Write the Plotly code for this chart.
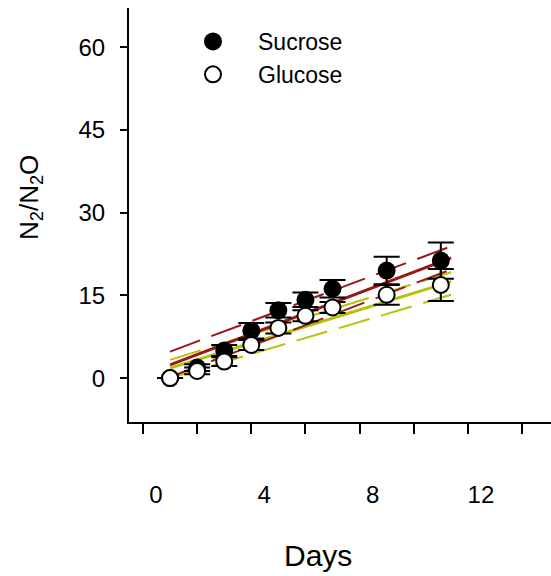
import plotly.graph_objects as go

# Data
days = [1, 2, 3, 4, 5, 6, 7, 9, 11]
sucrose = [0.0, 1.9, 5.0, 8.6, 12.3, 14.2, 16.2, 19.5, 21.3]
sucrose_err = [0.0, 0.6, 1.0, 1.4, 1.3, 1.3, 1.6, 2.5, 3.3]
glucose = [0.0, 1.3, 3.0, 6.0, 9.1, 11.3, 12.8, 15.1, 16.9]
glucose_err = [0.0, 0.6, 0.8, 0.9, 1.0, 1.0, 1.0, 1.8, 2.9]

fit_days = [1, 11.38]
sucrose_fit = [2.4, 21.8]
sucrose_upper = [4.8, 23.9]
sucrose_lower = [0.2, 19.7]
glucose_fit = [1.8, 17.5]
glucose_upper = [3.3, 19.2]
glucose_lower = [0.0, 15.1]

x_ticks = [0, 4, 8, 12]
y_ticks = [0, 15, 30, 45, 60]

RED = "#9b1717"
YEL = "#b5c20a"
FONT = "Liberation Sans, Arial, sans-serif"

fig = go.Figure()

def add_line(y, color, width, dash):
    fig.add_trace(go.Scatter(x=fit_days, y=y, mode="lines",
                             line=dict(color=color, width=width, dash=dash),
                             showlegend=False, hoverinfo="skip"))

add_line(glucose_upper, YEL, 2, "32px,12px")
add_line(glucose_lower, YEL, 2, "32px,12px")
add_line(glucose_fit, YEL, 3, "solid")
add_line(sucrose_upper, RED, 2, "32px,12px")
add_line(sucrose_lower, RED, 2, "32px,12px")
add_line(sucrose_fit, RED, 3, "solid")

fig.add_trace(go.Scatter(
    x=days, y=sucrose, mode="markers", name="Sucrose",
    marker=dict(symbol="circle", size=16, color="black",
                line=dict(color="black", width=2)),
    error_y=dict(type="data", array=sucrose_err, color="black",
                 thickness=2, width=13),
))
fig.add_trace(go.Scatter(
    x=days, y=glucose, mode="markers", name="Glucose",
    marker=dict(symbol="circle", size=16, color="white",
                line=dict(color="black", width=2)),
    error_y=dict(type="data", array=glucose_err, color="black",
                 thickness=2, width=13),
))

fig.update_layout(
    width=551, height=576,
    margin=dict(l=129, r=0, t=8, b=154, pad=0),
    paper_bgcolor="white", plot_bgcolor="white",
    font=dict(family=FONT, color="black"),
    showlegend=True,
    legend=dict(x=(168 - 129) / 422, y=0.971, xanchor="left", yanchor="top",
                bgcolor="rgba(0,0,0,0)", font=dict(size=23),
                itemwidth=80, tracegroupgap=0),
    xaxis=dict(range=[-0.517, 15.07], showgrid=False, zeroline=False,
               showline=True, linecolor="black", linewidth=2,
               ticks="outside", ticklen=10, tickwidth=2, tickcolor="black",
               tickmode="array", tickvals=x_ticks,
               ticktext=[str(v) for v in x_ticks],
               tickfont=dict(size=24), ticklabelstandoff=40,
               ticklabelshift=13,
               minor=dict(tickmode="linear", tick0=0, dtick=2, ticks="outside",
                          ticklen=10, tickwidth=2, tickcolor="black")),
    yaxis=dict(range=[-7.96, 67.1], showgrid=False, zeroline=False,
               showline=True, linecolor="black", linewidth=2,
               ticks="outside", ticklen=7, tickwidth=2, tickcolor="black",
               tickmode="array", tickvals=y_ticks,
               tickfont=dict(size=24), ticklabelstandoff=10),
    annotations=[
        dict(text="N<sub>2</sub>/N<sub>2</sub>O", textangle=-90,
             xref="paper", yref="paper", x=-(129 - 30) / 422, y=(422 - 198) / 414,
             xanchor="center", yanchor="middle", showarrow=False,
             font=dict(size=26)),
        dict(text="Days", xref="paper", yref="paper",
             x=(318 - 129) / 422, y=-(555 - 422) / 414,
             xanchor="center", yanchor="middle", showarrow=False,
             font=dict(size=30)),
    ],
)

fig.write_html("out.html")
